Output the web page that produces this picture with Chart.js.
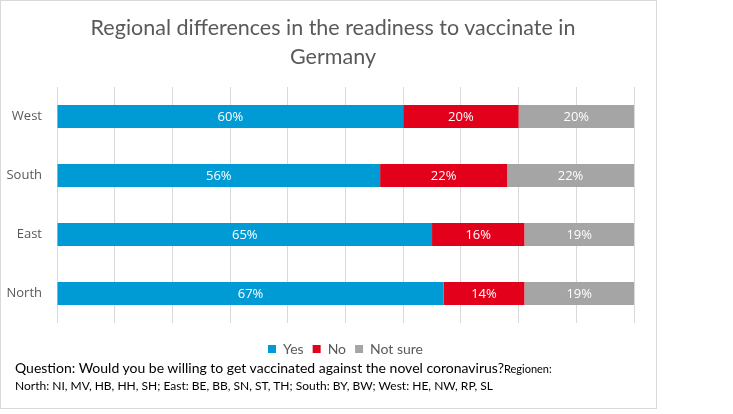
<!DOCTYPE html>
<html>
<head>
<meta charset="utf-8">
<script src="https://cdn.jsdelivr.net/npm/chart.js@4/dist/chart.umd.min.js"></script>
<style>
    html, body { margin: 0; padding: 0; background: #fff; }
    #wrap { position: relative; width: 733px; height: 414px; overflow: hidden; }
    #frame { position: absolute; left: 0; top: 0; width: 655px; height: 407px; border: 1px solid #d9d9d9; }
    #chartTitle {
        position: absolute; left: 0; top: 13px; width: 666px; text-align: center;
        font-family: Lato, sans-serif; font-size: 21.5px; line-height: 29px; color: #595959;
    }
    #note {
        position: absolute; left: 15px; top: 360px;
        font-family: Lato, sans-serif; color: #000;
    }
    #note .q { font-size: 14px; line-height: 16px; }
    #note .q small { font-size: 11px; }
    #note .r { font-size: 12px; line-height: 15px; margin-top: 1px; }
    canvas { position: absolute; left: 0; top: 0; }
</style>
</head>
<body>
<div id="wrap">
    <div id="frame"></div>
    <canvas id="chart" width="733" height="414"></canvas>
    <div id="chartTitle">Regional differences in the readiness to vaccinate in<br>Germany</div>
    <div id="note">
        <div class="q">Question: Would you be willing to get vaccinated against the novel coronavirus?<small>Regionen:</small></div>
        <div class="r">North: NI, MV, HB, HH, SH; East: BE, BB, SN, ST, TH; South: BY, BW; West: HE, NW, RP, SL</div>
    </div>
</div>
<script>
const regions = ["West", "South", "East", "North"];
const yesValues = [60, 56, 65, 67];
const noValues = [20, 22, 16, 14];
const notSureValues = [20, 22, 19, 19];
const seriesNames = ["Yes", "No", "Not sure"];

const textGray = "#595959";

// white percentage labels centered in every segment
const barLabels = {
    id: "barLabels",
    afterDatasetsDraw(chart) {
        const ctx = chart.ctx;
        ctx.save();
        ctx.font = "13px 'Open Sans', sans-serif";
        ctx.fillStyle = "#fff";
        ctx.textAlign = "center";
        ctx.textBaseline = "middle";
        chart.data.datasets.forEach((ds, i) => {
            chart.getDatasetMeta(i).data.forEach((bar, j) => {
                ctx.fillText(ds.data[j] + "%", (bar.x + bar.base) / 2, bar.y + 1);
            });
        });
        ctx.restore();
    }
};

new Chart(document.querySelector("#chart"), {
    type: "bar",
    data: {
        labels: regions,
        datasets: [
            { label: seriesNames[0], data: yesValues, backgroundColor: "#009bd4" },
            { label: seriesNames[1], data: noValues, backgroundColor: "#e2001a" },
            { label: seriesNames[2], data: notSureValues, backgroundColor: "#a5a5a5" }
        ]
    },
    options: {
        indexAxis: "y",
        responsive: false,
        animation: false,
        datasets: { bar: { categoryPercentage: 1, barPercentage: 0.39, borderWidth: 0 } },
        layout: { padding: { top: 87, right: 99, bottom: 48, left: 0 } },
        scales: {
            x: {
                stacked: true,
                min: 0,
                max: 100,
                ticks: { display: false, stepSize: 10 },
                grid: { color: "#d9d9d9", drawTicks: false },
                border: { display: false },
                afterFit: s => { s.height = 10; }
            },
            y: {
                stacked: true,
                grid: { display: false, drawTicks: false, tickLength: 0 },
                border: { display: false },
                ticks: { color: textGray, padding: 15, font: { family: "'Open Sans', sans-serif", size: 13 } },
                afterFit: s => { s.width = 57; }
            }
        },
        plugins: {
            legend: {
                position: "bottom",
                fullSize: false,
                labels: {
                    boxWidth: 8,
                    boxHeight: 8,
                    padding: 9,
                    color: textGray,
                    font: { family: "Lato, sans-serif", size: 14 }
                }
            },
            tooltip: { enabled: false }
        }
    },
    plugins: [barLabels]
});
</script>
</body>
</html>
